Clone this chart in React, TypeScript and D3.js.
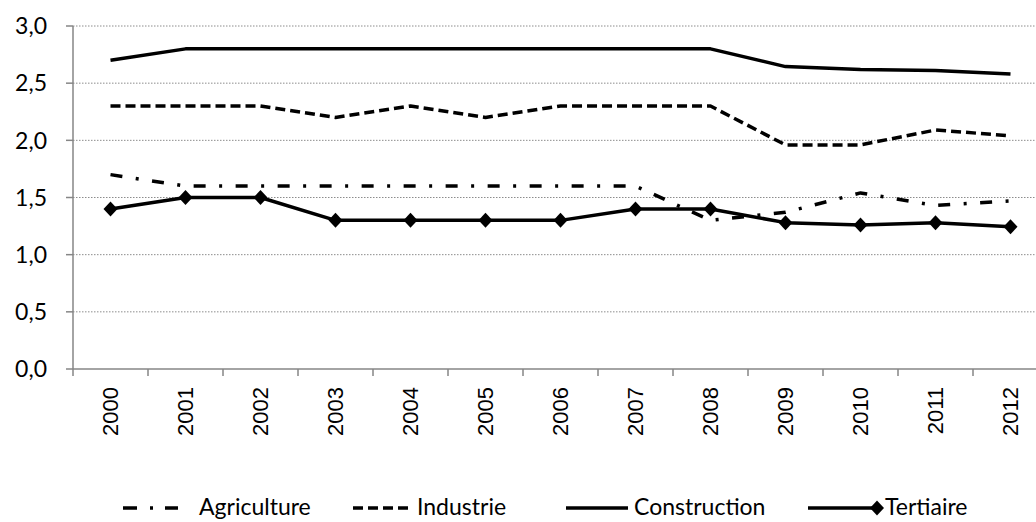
import React from "react";
import * as d3 from "d3";

const years = ["2000","2001","2002","2003","2004","2005","2006","2007","2008","2009","2010","2011","2012"];
const agriculture = [1.7,1.6,1.6,1.6,1.6,1.6,1.6,1.6,1.3,1.37,1.54,1.43,1.47];
const industrie = [2.3,2.3,2.3,2.2,2.3,2.2,2.3,2.3,2.3,1.96,1.96,2.09,2.04];
const construction = [2.7,2.8,2.8,2.8,2.8,2.8,2.8,2.8,2.8,2.645,2.62,2.61,2.58];
const tertiaire = [1.4,1.5,1.5,1.3,1.3,1.3,1.3,1.4,1.4,1.28,1.26,1.28,1.245];
const yTicks = [0,0.5,1,1.5,2,2.5,3];

const W = 1036, H = 522;
const left = 73, right = 1048, top = 26, bottom = 369;

export default function App() {
  const x = d3.scaleBand().domain(years).range([left, right]).padding(0);
  const y = d3.scaleLinear().domain([0, 3]).range([bottom, top]);
  const cx = (i: number) => (x(years[i]) as number) + x.bandwidth() / 2;
  const line = d3.line<number>().x((_, i) => cx(i)).y(d => y(d));
  const fmt = (v: number) => v.toFixed(1).replace(".", ",");
  const font = "Lato, 'Open Sans', sans-serif";
  const diamond = "M0,-7.5L7,0L0,7.5L-7,0Z";

  const series = [
    { name: "Agriculture", data: agriculture, dash: "12,13.5,3,13.5" },
    { name: "Industrie", data: industrie, dash: "10,5" },
    { name: "Construction", data: construction, dash: "" },
    { name: "Tertiaire", data: tertiaire, dash: "", marker: true },
  ];

  const legend = [
    { name: "Agriculture", x1: 123, x2: 178, tx: 199, dash: "14,13,3,12" },
    { name: "Industrie", x1: 353, x2: 413, tx: 417, dash: "10,5" },
    { name: "Construction", x1: 566, x2: 628, tx: 634, dash: "" },
    { name: "Tertiaire", x1: 808, x2: 877, tx: 885, dash: "", marker: true },
  ];
  const ly = 508;
  const lBase = 515;

  return (
    <svg width={W} height={H} style={{ position: "absolute", left: 0, top: 0, background: "#fff" }}>
      {yTicks.filter(t => t > 0).map(t => (
        <line key={"g" + t} x1={left} x2={right} y1={y(t)} y2={y(t)} stroke="#8c8c8c" strokeWidth={1} strokeDasharray="1.5,1.5" />
      ))}
      <line x1={left} x2={left} y1={top} y2={bottom} stroke="#868686" strokeWidth={1.5} />
      <line x1={left} x2={right} y1={bottom} y2={bottom} stroke="#868686" strokeWidth={1.5} />
      {yTicks.map(t => (
        <g key={"y" + t}>
          <line x1={left - 7} x2={left} y1={y(t)} y2={y(t)} stroke="#868686" strokeWidth={1.5} />
          <text x={47} y={y(t)} dy="0.36em" textAnchor="end" fontFamily={font} fontSize={23} fill="#000">{fmt(t)}</text>
        </g>
      ))}
      {years.map((yr, i) => (
        <g key={"x" + yr}>
          <line x1={x(yr) as number} x2={x(yr) as number} y1={bottom} y2={bottom + 7} stroke="#868686" strokeWidth={1.5} />
          <text transform={`translate(${cx(i)},${bottom + 18}) rotate(-90)`} dy="0.36em" textAnchor="end" fontFamily="'Liberation Sans', Arial, sans-serif" fontSize={22} fill="#000">{yr}</text>
        </g>
      ))}
      {series.map(s => (
        <g key={s.name}>
          <path d={line(s.data) as string} fill="none" stroke="#000" strokeWidth={3.5} strokeDasharray={s.dash || undefined} strokeLinejoin="round" />
          {s.marker && s.data.map((v, i) => (
            <path key={i} d={diamond} transform={`translate(${cx(i)},${y(v)})`} fill="#000" />
          ))}
        </g>
      ))}
      {legend.map(l => (
        <g key={"l" + l.name}>
          <line x1={l.x1} x2={l.x2} y1={ly} y2={ly} stroke="#000" strokeWidth={3.5} strokeDasharray={l.dash || undefined} />
          {l.marker && <path d={diamond} transform={`translate(${l.x2},${ly})`} fill="#000" />}
          <text x={l.tx} y={lBase} fontFamily={font} fontSize={23} fill="#000">{l.name}</text>
        </g>
      ))}
    </svg>
  );
}
